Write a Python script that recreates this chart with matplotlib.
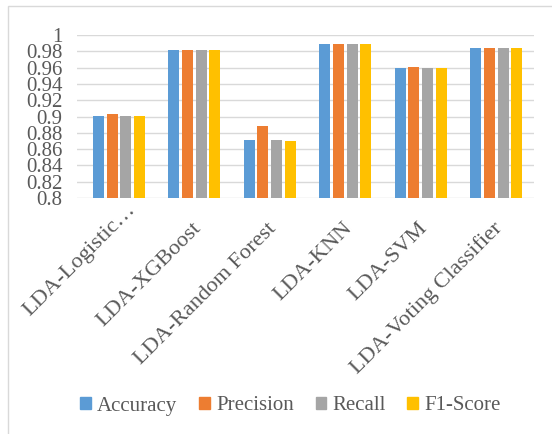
import matplotlib
matplotlib.use("Agg")
import matplotlib.pyplot as plt
import matplotlib.patches as mpatches
import matplotlib.transforms as mtransforms
import numpy as np

# Model names and scores
categories = ["LDA-Logistic\u2026", "LDA-XGBoost", "LDA-Random Forest",
              "LDA-KNN", "LDA-SVM", "LDA-Voting Classifier"]
accuracy = [0.901, 0.981, 0.871, 0.989, 0.960, 0.984]
precision = [0.903, 0.981, 0.888, 0.989, 0.961, 0.984]
recall = [0.901, 0.981, 0.871, 0.989, 0.960, 0.984]
f1_score = [0.901, 0.981, 0.870, 0.989, 0.960, 0.984]
series_names = ["Accuracy", "Precision", "Recall", "F1-Score"]
y_ticks = [0.8, 0.82, 0.84, 0.86, 0.88, 0.9, 0.92, 0.94, 0.96, 0.98, 1.0]
y_tick_labels = ["0.8", "0.82", "0.84", "0.86", "0.88", "0.9",
                 "0.92", "0.94", "0.96", "0.98", "1"]

colors = ["#5B9BD5", "#ED7D31", "#A5A5A5", "#FFC000"]
text_color = "#595959"
grid_color = "#D9D9D9"
font = "Liberation Serif"
fs = 15
cat_fs = 16.2

W, H = 552, 434
fig = plt.figure(figsize=(W / 100, H / 100), dpi=100)

# outer chart frame
frame = mpatches.Rectangle((8 / W, -0.1), 1.2, 1 - 6.5 / H + 0.1,
                           transform=fig.transFigure, fill=False,
                           edgecolor=grid_color, linewidth=1.0)
fig.patches.append(frame)

left, right, top, bottom = 77, 534, 35, 198
ax = fig.add_axes([left / W, 1 - bottom / H, (right - left) / W, (bottom - top) / H])

x = np.arange(len(categories))
pitch = 0.182
bar_w = 0.146
for i, (vals, name) in enumerate(zip([accuracy, precision, recall, f1_score], series_names)):
    ax.bar(x + (i - 1.5) * pitch, vals, width=bar_w, color=colors[i],
           label=name, zorder=3)

ax.set_ylim(0.8, 1.0)
ax.set_xlim(-0.555, 5.5)
ax.set_yticks(y_ticks)
ax.set_yticklabels(y_tick_labels, fontfamily=font, fontsize=fs, color=text_color)
ax.tick_params(axis="y", length=0, pad=10.5)
ax.yaxis.grid(True, color=grid_color, linewidth=1.0, zorder=0)
ax.set_axisbelow(True)
for s in ax.spines.values():
    s.set_visible(False)

ax.set_xticks(x)
ax.set_xticklabels(categories, rotation=45, ha="right", va="baseline",
                   rotation_mode="anchor", fontfamily=font, fontsize=cat_fs,
                   color=text_color)
ax.tick_params(axis="x", length=0, pad=31 * 0.72)
# category labels end a little right of each group centre;
# the shortened first label sits higher
for k, lab in enumerate(ax.get_xticklabels()):
    dx, dy = (17, 19) if k == 0 else (7, 0)
    lab.set_transform(lab.get_transform() +
                      mtransforms.ScaledTranslation(dx / 100, dy / 100, fig.dpi_scale_trans))

handles = [mpatches.Patch(color=c) for c in colors]
leg = fig.legend(handles, series_names, loc="center", ncol=4,
                 bbox_to_anchor=(290.5 / W, 1 - 406 / H), frameon=False,
                 prop={"family": font, "size": fs},
                 handlelength=0.5, handleheight=0.5, handletextpad=0.3,
                 columnspacing=1.05, borderaxespad=0, borderpad=0)
for t in leg.get_texts():
    t.set_color(text_color)

fig.savefig("out.png", dpi=100)
